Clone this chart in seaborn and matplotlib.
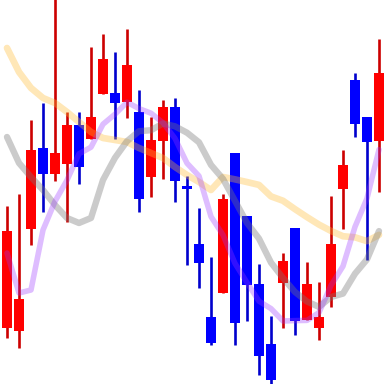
import numpy as np
import pandas as pd
import matplotlib
matplotlib.use("Agg")
import matplotlib.pyplot as plt
import seaborn as sns

# Candle data (price units)
opens  = [72, 69, 171, 252, 226, 236, 275, 261, 306, 307, 298, 288, 223, 259, 293, 214,
          156, 83, 107, 247, 184, 116, 56, 117, 172, 80, 72, 103, 211, 320, 283, 259]
closes = [169, 101, 250, 226, 247, 275, 233, 283, 341, 297, 335, 201, 260, 293, 219, 211,
          137, 57, 201, 77, 115, 44, 20, 139, 79, 116, 83, 156, 235, 276, 258, 327]
highs  = [194, 206, 280, 297, 405, 288, 288, 353, 366, 348, 371, 310, 283, 300, 302, 224,
          192, 143, 206, 247, 184, 136, 84, 147, 172, 138, 118, 204, 250, 327, 283, 361]
lows   = [62, 52, 155, 188, 219, 178, 216, 261, 306, 261, 282, 188, 203, 221, 198, 135,
          112, 55, 107, 55, 79, 25, 16, 72, 65, 80, 60, 93, 171, 263, 140, 208]

# Moving averages (price units)
ma5  = [147, 107, 110, 170, 198.6, 219.8, 246.2, 252.8, 275.8, 285.8, 297.8, 291.4, 286.8,
        277.2, 261.6, 236.8, 224, 183.4, 165, 136.6, 117.4, 98.8, 91.4, 79, 79.4, 79.6,
        87.4, 114.6, 133.8, 173.2, 201.6, 250.4]
ma10 = [263, 237, 223, 210, 195, 182, 177, 182, 220, 242.2, 258.8, 268.8, 269.8, 276.5,
        273.7, 267.3, 257.7, 235.1, 221.1, 199.1, 177.1, 161.4, 137.4, 122, 108, 98.5,
        93.1, 103, 106.4, 126.3, 140.6, 168.9]
ma20 = [352, 328, 312, 302, 297, 288, 278, 268, 262, 260, 258, 252, 247, 242, 233, 225,
        218, 210, 223, 220.65, 217.95, 215.1, 203.6, 199.25, 190.85, 182.9, 175.4, 169.05,
        163.75, 162.7, 158.85, 165.15]

sns.set_theme(style="white")

fig = plt.figure(figsize=(3.84, 3.84), dpi=100)
ax = fig.add_axes([0, 0, 1, 1])

x = np.arange(len(opens))
o = np.array(opens); c = np.array(closes)
up = c >= o
body_col = np.where(up, "#ff0000", "#0000ff")
wick_col = np.where(up, "#cc0000", "#0000cc")

ax.vlines(x, lows, highs, colors=wick_col, linewidth=1.9, zorder=1)
bottoms = np.minimum(o, c)
heights = np.maximum(np.abs(c - o), 2.5)
ax.bar(x, heights, bottom=bottoms, width=0.83, color=body_col, linewidth=0, zorder=2)

df = pd.DataFrame({"x": x, "ma5": ma5, "ma10": ma10, "ma20": ma20})
sns.lineplot(data=df, x="x", y="ma20", ax=ax, color="#ffbb33", alpha=0.35, linewidth=4.8, zorder=3)
sns.lineplot(data=df, x="x", y="ma10", ax=ax, color="#777777", alpha=0.38, linewidth=4.6, zorder=3)
sns.lineplot(data=df, x="x", y="ma5", ax=ax, color="#9933ff", alpha=0.32, linewidth=4.0, zorder=3)

ax.set_xlim(-7 / 12, 377 / 12)
ax.set_ylim(16, 400)
ax.axis("off")

fig.savefig("out.png", dpi=100)
